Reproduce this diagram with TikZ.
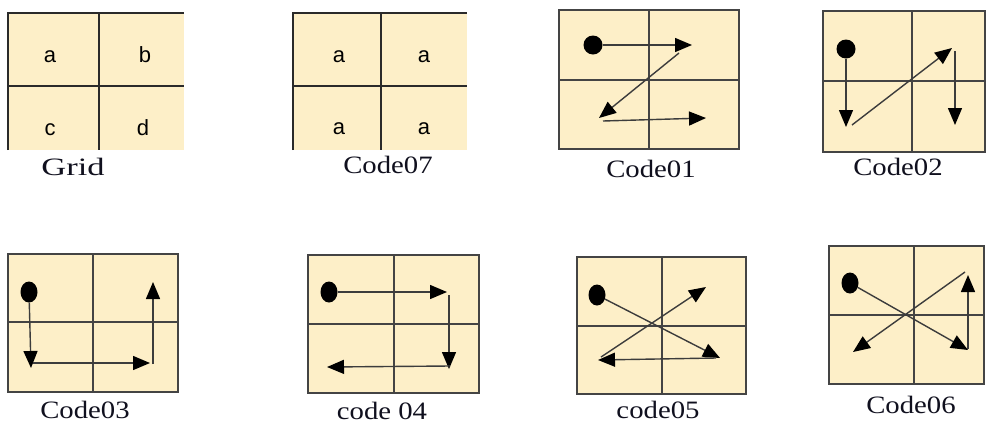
\documentclass[tikz,border=0pt]{standalone}
\usepackage{fontspec}
\setmainfont{Liberation Serif}
\newfontfamily\lblfont{Liberation Sans}
\usetikzlibrary{arrows.meta,shapes.geometric}
\definecolor{cell}{HTML}{FDEFC8}
\definecolor{edgecol}{HTML}{2A2A2A}
\definecolor{gridcol}{HTML}{444444}
\definecolor{arr}{HTML}{3C3C3C}
\definecolor{captxt}{HTML}{10101E}
\tikzset{
  heavy/.style={draw=edgecol, line width=1.8pt},
  light/.style={draw=gridcol, line width=1.4pt},
  flow/.style={draw=arr, line width=1.4pt, -{Triangle[length=17pt,width=14pt,color=black]}},
  rdot/.style={circle, fill=black, inner sep=0pt, minimum size=19pt},
  odot/.style={ellipse, fill=black, inner sep=0pt, minimum width=17pt, minimum height=21pt},
  caption/.style={font=\fontsize{25}{25}\selectfont, anchor=base, xscale=1.15, text=captxt, inner sep=0pt},
  letter/.style={font=\lblfont\fontsize{22}{22}\selectfont, anchor=base, text=black, inner sep=0pt},
}
\begin{document}
\begin{tikzpicture}[x=1pt,y=-1pt]
\useasboundingbox (0,0) rectangle (988,424);
% ---------------- Grid
\fill[cell] (8,13) rectangle (184,150);
\draw[heavy] (8,150) -- (8,13) -- (184,13);
\draw[heavy] (99,13) -- (99,150);
\draw[heavy] (8,86) -- (184,86);
\node[letter] (ga) at (50,62) {a};
\node[letter] (gb) at (145,62) {b};
\node[letter] (gc) at (50,135) {c};
\node[letter] (gd) at (143,135) {d};
\node[caption, xscale=1.2] (capgrid) at (73,175) {Grid};
% ---------------- Code07
\fill[cell] (293,13) rectangle (467,150);
\draw[heavy] (293,150) -- (293,13) -- (467,13);
\draw[heavy] (381,13) -- (381,150);
\draw[heavy] (293,86) -- (467,86);
\node[letter] (sa) at (339,62) {a};
\node[letter] (sb) at (424,62) {a};
\node[letter] (sc) at (339,134) {a};
\node[letter] (sd) at (424,134) {a};
\node[caption] (cap07) at (388,173) {Code07};
% ---------------- Code01
\fill[cell] (559,10) rectangle (739,149);
\draw[light] (559,10) rectangle (739,149);
\draw[light] (649,10) -- (649,149);
\draw[light] (559,80) -- (739,80);
\node[rdot] (d1) at (593,45) {};
\coordinate (c1a) at (692,45);
\coordinate (c1b) at (679,53);
\coordinate (c1c) at (599,118);
\coordinate (c1d) at (603,121);
\coordinate (c1e) at (706,118);
\draw[flow] (d1) -- (c1a);
\draw[flow] (c1b) -- (c1c);
\draw[flow] (c1d) -- (c1e);
\node[caption] (cap01) at (651,177) {Code01};
% ---------------- Code02
\fill[cell] (823,11) rectangle (985,152);
\draw[light] (823,11) rectangle (985,152);
\draw[light] (912,11) -- (912,152);
\draw[light] (823,81) -- (985,81);
\node[rdot] (d2) at (846,49) {};
\coordinate (c2a) at (846,127);
\coordinate (c2b) at (852,125);
\coordinate (c2c) at (952,48);
\coordinate (c2d) at (955,51);
\coordinate (c2e) at (955,125);
\draw[flow] (d2) -- (c2a);
\draw[flow] (c2b) -- (c2c);
\draw[flow] (c2d) -- (c2e);
\node[caption] (cap02) at (898,175) {Code02};
% ---------------- Code03
\fill[cell] (8,254) rectangle (178,392);
\draw[light] (8,254) rectangle (178,392);
\draw[light] (93,254) -- (93,392);
\draw[light] (8,322) -- (178,322);
\node[odot] (d3) at (29,292) {};
\coordinate (c3a) at (31,368);
\coordinate (c3b) at (33,363);
\coordinate (c3c) at (150,363);
\coordinate (c3d) at (153,364);
\coordinate (c3e) at (153,282);
\draw[flow] (d3) -- (c3a);
\draw[flow] (c3b) -- (c3c);
\draw[flow] (c3d) -- (c3e);
\node[caption] (cap03) at (85,418) {Code03};
% ---------------- code 04
\fill[cell] (308,255) rectangle (479,393);
\draw[light] (308,255) rectangle (479,393);
\draw[light] (394,255) -- (394,393);
\draw[light] (308,324) -- (479,324);
\node[odot] (d4) at (329,292) {};
\coordinate (c4a) at (447,292);
\coordinate (c4b) at (449,295);
\coordinate (c4c) at (449,369);
\coordinate (c4d) at (450,366);
\coordinate (c4e) at (327,367);
\draw[flow] (d4) -- (c4a);
\draw[flow] (c4b) -- (c4c);
\draw[flow] (c4d) -- (c4e);
\node[caption] (cap04) at (382,419) {code 04};
% ---------------- code05
\fill[cell] (577,257) rectangle (746,394);
\draw[light] (577,257) rectangle (746,394);
\draw[light] (662,257) -- (662,394);
\draw[light] (577,326) -- (746,326);
\node[odot] (d5) at (597,295) {};
\coordinate (c5a) at (720,358);
\coordinate (c5b) at (716,358);
\coordinate (c5c) at (598,360);
\coordinate (c5d) at (601,357);
\coordinate (c5e) at (706,287);
\draw[flow] (d5) -- (c5a);
\draw[flow] (c5b) -- (c5c);
\draw[flow] (c5d) -- (c5e);
\node[caption] (cap05) at (658,418) {code05};
% ---------------- Code06
\fill[cell] (829,246) rectangle (984,384);
\draw[light] (829,246) rectangle (984,384);
\draw[light] (914,246) -- (914,384);
\draw[light] (829,315) -- (984,315);
\node[odot] (d6) at (850,283) {};
\coordinate (c6a) at (968,350);
\coordinate (c6b) at (968,349);
\coordinate (c6c) at (968,275);
\coordinate (c6d) at (965,272);
\coordinate (c6e) at (853,352);
\draw[flow] (d6) -- (c6a);
\draw[flow] (c6b) -- (c6c);
\draw[flow] (c6d) -- (c6e);
\node[caption] (cap06) at (911,413) {Code06};
\end{tikzpicture}
\end{document}
